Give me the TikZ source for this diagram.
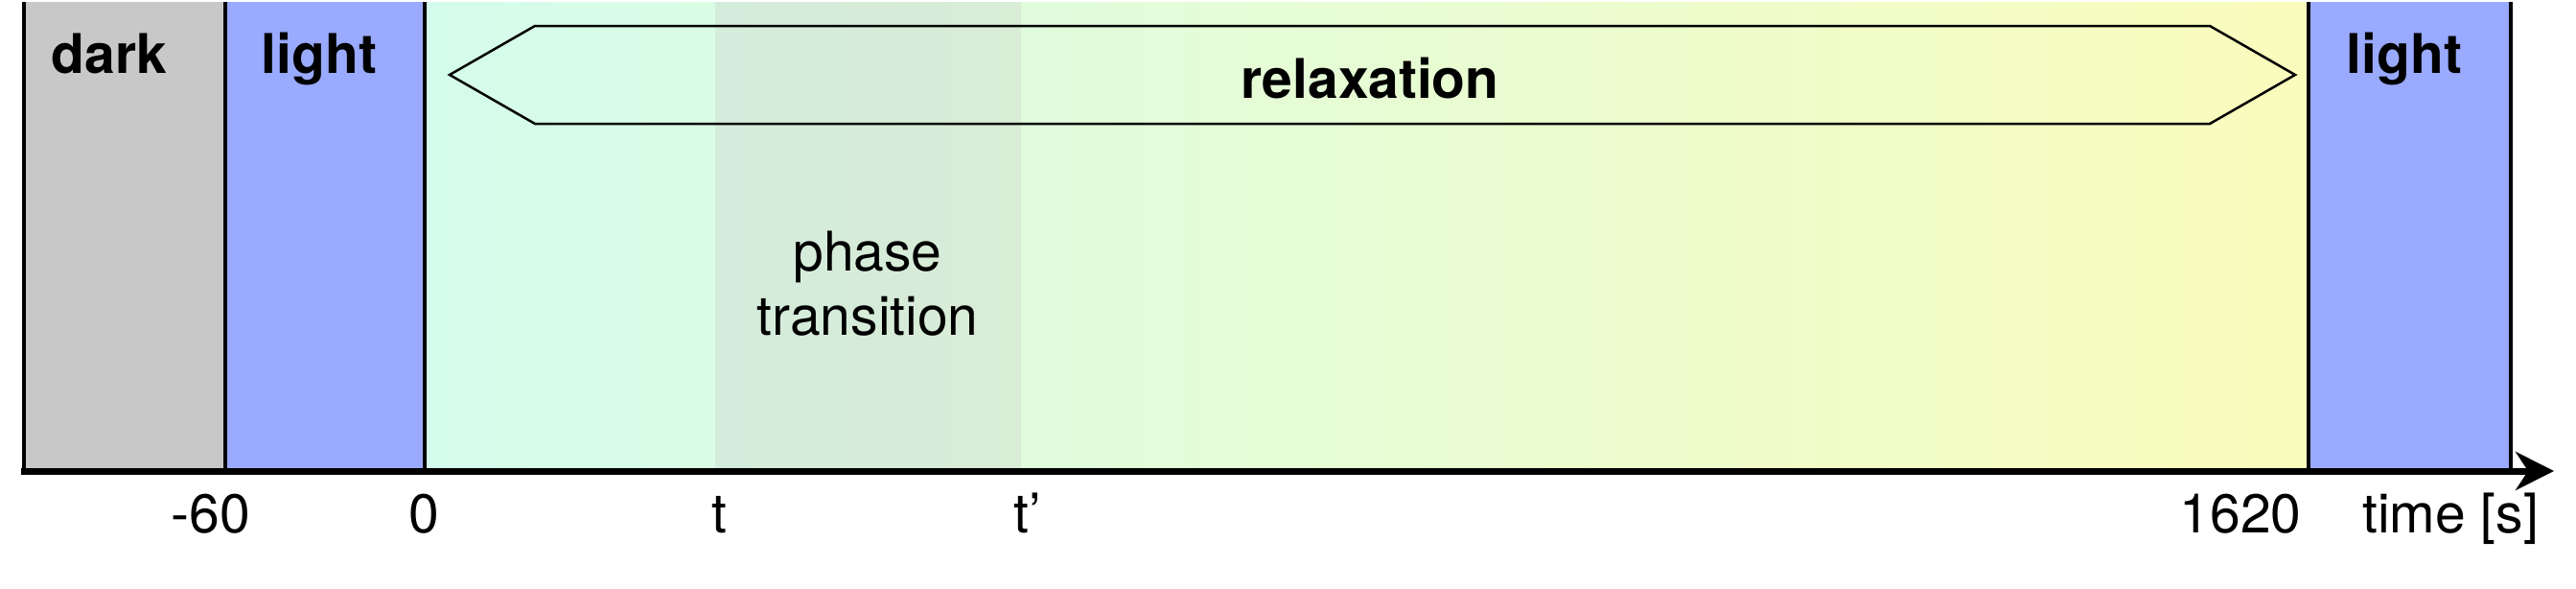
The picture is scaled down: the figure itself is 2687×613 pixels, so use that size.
\documentclass[tikz,border=0pt]{standalone}
\usepackage{fontspec}
\setmainfont{TeX Gyre Heros}
\usetikzlibrary{arrows.meta}
\definecolor{bandgray}{RGB}{200,200,200}
\definecolor{bandblue}{RGB}{153,170,255}
\definecolor{relaxmint}{RGB}{212,252,236}
\definecolor{relaxlemon}{RGB}{250,252,188}
\begin{document}
\begin{tikzpicture}[x=0.2pt,y=-0.2pt,
  band/.style={draw=black,line width=0.7pt},
  lbl/.style={anchor=base,inner sep=0pt,font=\fontsize{11.4}{13.4}\selectfont},
  boldlbl/.style={lbl,font=\fontsize{11.4}{13.4}\selectfont\bfseries}]
\useasboundingbox (0,0) rectangle (2687,613);
% Drawing bands
\shade[left color=relaxmint,right color=relaxlemon] (443,2) rectangle (2408,491);
\fill[bandgray,opacity=0.3] (746,2) rectangle (1065,491);
\fill[bandgray] (25,2) rectangle (235,491);
\fill[bandblue] (235,2) rectangle (443,491);
\fill[bandblue] (2408,2) rectangle (2619,491);
\foreach \x in {25,235,443,2408,2619}
  \draw[band] (\x,2) -- (\x,491);
% Done with bands; drawing the relaxation arrow
\draw[line width=0.5pt] (469,78) -- (558,27) -- (2305,27) -- (2394,78) -- (2305,129) -- (558,129) -- cycle;
% Drawing the time axis
\coordinate (axisstart) at (22,491);
\coordinate (axisend) at (2664,491);
\draw[line width=1.4pt,-{Stealth[length=8pt,width=8pt]}] (axisstart) -- (axisend);
% Done with axis; drawing labels
\node[boldlbl] (dark) at (114,76) {dark};
\node[boldlbl] (lightA) at (333,76) {light};
\node[boldlbl] (lightB) at (2508,76) {light};
\node[boldlbl] (relax) at (1429,102) {relaxation};
\node[lbl,anchor=center,align=center] (phase) at (905,296) {phase\\transition};
% Drawing tick labels
\node[lbl] (tminus) at (220,555) {-60};
\node[lbl] (tzero) at (442,555) {0};
\node[lbl] (tstart) at (750,555) {t};
\node[lbl] (tend) at (1072,555) {t’};
\node[lbl] (tfinal) at (2337,555) {1620};
\node[lbl] (tunit) at (2556,555) {time [s]};
% Done with labels
\end{tikzpicture}
\end{document}
